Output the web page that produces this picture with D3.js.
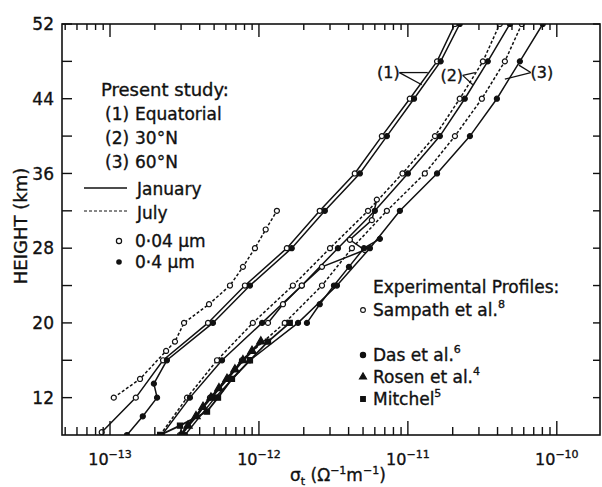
<!DOCTYPE html>
<html>
<head>
<meta charset="utf-8">
<script src="https://cdn.jsdelivr.net/npm/d3@7"></script>
<style>
  body { margin: 0; background: #fff; }
  svg text { font-family: "DejaVu Sans", sans-serif; fill: #111; stroke: #111; stroke-width: 0.35px; }
</style>
</head>
<body>
<svg id="chart"></svg>
<script>
// heights (km) and total conductivity sigma_t (ohm^-1 m^-1)
const equatorOpenH = [8.3, 12, 16, 20, 24, 28, 32, 36, 40, 44, 48, 52];
const equatorOpenS = [8.8e-14, 1.49e-13, 2.27e-13, 4.55e-13, 8.05e-13, 1.54e-12, 2.56e-12, 4.40e-12, 6.69e-12, 1.03e-11, 1.57e-11, 2.07e-11];

const equatorFilledH = [8, 10, 12, 13.5, 16, 20, 24, 28, 32, 36, 40, 44, 48, 52];
const equatorFilledS = [1.30e-13, 1.66e-13, 2.07e-13, 1.97e-13, 2.41e-13, 4.91e-13, 8.70e-13, 1.66e-12, 2.77e-12, 4.76e-12, 7.23e-12, 1.10e-11, 1.66e-11, 2.23e-11];

const equatorJulyH = [12, 14, 17, 18, 20, 22, 24, 26, 28, 30, 32];
const equatorJulyS = [1.06e-13, 1.59e-13, 2.38e-13, 2.73e-13, 3.14e-13, 4.62e-13, 6.39e-13, 7.81e-13, 9.4e-13, 1.11e-12, 1.32e-12];

const modelH = [8, 12, 16, 20, 24, 28, 32, 36, 40, 44, 48, 52];
const lat30JulyS = [2.17e-13, 3.29e-13, 5.23e-13, 9.1e-13, 1.69e-12, 3.0e-12, 5.4e-12, 9.2e-12, 1.52e-11, 2.23e-11, 3.19e-11, 4.14e-11];
const lat30JanS = [2.23e-13, 3.44e-13, 5.65e-13, 1.05e-12, 1.94e-12, 3.39e-12, 6.0e-12, 1.0e-11, 1.64e-11, 2.41e-11, 3.44e-11, 4.84e-11];
const lat60JulyS = [2.95e-13, 4.69e-13, 7.69e-13, 1.49e-12, 2.65e-12, 4.21e-12, 7.23e-12, 1.30e-11, 2.07e-11, 3.14e-11, 4.48e-11, 5.82e-11];
const lat60JanS = [3.19e-13, 5.07e-13, 8.70e-13, 1.83e-12, 3.34e-12, 5.56e-12, 8.84e-12, 1.57e-11, 2.61e-11, 3.96e-11, 5.65e-11, 8.05e-11];

// experimental profiles
const sampathH = [20, 22, 24, 26, 27.8, 28.9, 31, 33.2];
const sampathS = [1.15e-12, 1.45e-12, 1.94e-12, 2.65e-12, 5.14e-12, 4.08e-12, 5.73e-12, 6.19e-12];
const dasH = [20, 22, 24, 26, 28, 29];
const dasS = [2.10e-12, 2.56e-12, 3.19e-12, 4.02e-12, 5.07e-12, 6.49e-12];
const rosenH = [8, 9, 10, 11, 12, 13, 14, 15, 16, 17, 18];
const rosenS = [3.0e-13, 3.34e-13, 3.78e-13, 4.21e-13, 4.76e-13, 5.39e-13, 6.10e-13, 6.90e-13, 7.81e-13, 8.98e-13, 1.03e-12];
const mitchelH = [8, 9, 10.5, 12, 14, 16, 18, 20];
const mitchelS = [2.17e-13, 2.95e-13, 4.48e-13, 5.31e-13, 6.59e-13, 8.70e-13, 1.15e-12, 1.61e-12];

const yTicks = [12, 16, 20, 24, 28, 32, 36, 40, 44, 48, 52];
const yTickLabels = [12, 20, 28, 36, 44, 52];
const xTickLabels = [-13, -12, -11, -10];

// curve labels (1) (2) (3) with leader targets
const curveLabels = ["(1)", "(2)", "(3)"];
const labelS = [7.4e-12, 1.97e-11, 7.93e-11];
const labelH = [46.8, 46.5, 46.8];
const leaderS = [[1.36e-11, 1.24e-11], [2.82e-11, 2.73e-11], [5.56e-11, 4.48e-11]];
const leaderH = [[46.8, 45.5], [46.8, 45.5], [47.6, 46.1]];

const W = 602, H = 487;
const margin = {top: 24, right: 2, bottom: 52, left: 62};
const width = W - margin.left - margin.right;
const height = H - margin.top - margin.bottom;

const svg = d3.select('#chart').attr('width', W).attr('height', H);
const chart = svg.append('g').attr('transform', `translate(${margin.left},${margin.top})`);

const x = d3.scaleLog().domain([4.76e-14, 1.95e-10]).range([0, width]);
const y = d3.scaleLinear().domain([8, 52]).range([height, 0]);

svg.append('defs').append('clipPath').attr('id', 'plotclip')
  .append('rect').attr('width', width).attr('height', height);

const zip = (hs, ss) => hs.map((h, i) => ({h: h, s: ss[i]}));

const series = [
  {pts: zip(equatorOpenH, equatorOpenS), dash: null, mark: 'open'},
  {pts: zip(equatorFilledH, equatorFilledS), dash: null, mark: 'filled'},
  {pts: zip(equatorJulyH, equatorJulyS), dash: '3,2', mark: 'open'},
  {pts: zip(modelH, lat30JulyS), dash: '3,2', mark: 'open'},
  {pts: zip(modelH, lat30JanS), dash: null, mark: 'filled'},
  {pts: zip(modelH, lat60JulyS), dash: '3,2', mark: 'open'},
  {pts: zip(modelH, lat60JanS), dash: null, mark: 'filled'},
  {pts: zip(rosenH, rosenS), dash: null, mark: 'triangle', width: 2.6},
  {pts: zip(mitchelH, mitchelS), dash: null, mark: 'square', width: 1.8},
  {pts: zip(sampathH, sampathS), dash: null, mark: 'open'},
  {pts: zip(dasH, dasS), dash: null, mark: 'filled'}
];

const line = d3.line().x(d => x(d.s)).y(d => y(d.h));

const plot = chart.append('g').attr('clip-path', 'url(#plotclip)');

series.forEach(sr => {
  plot.append('path')
    .datum(sr.pts)
    .attr('d', line)
    .attr('fill', 'none')
    .attr('stroke', '#111')
    .attr('stroke-width', sr.width || 1.5)
    .attr('stroke-dasharray', sr.dash);

  const symType = sr.mark === 'triangle' ? d3.symbolTriangle : sr.mark === 'square' ? d3.symbolSquare : d3.symbolCircle;
  const size = sr.mark === 'triangle' ? 30 : sr.mark === 'square' ? 26 : 20;
  plot.selectAll(null)
    .data(sr.pts)
    .join('path')
      .attr('transform', d => `translate(${x(d.s)},${y(d.h)})`)
      .attr('d', d3.symbol().type(symType).size(size))
      .attr('fill', sr.mark === 'open' ? '#fff' : '#111')
      .attr('stroke', '#111')
      .attr('stroke-width', 1.2);
});

// frame
chart.append('rect')
  .attr('width', width).attr('height', height)
  .attr('fill', 'none').attr('stroke', '#111').attr('stroke-width', 1.6);

// x ticks (bottom pointing up, top pointing down)
const xt = x.ticks().filter(t => t >= x.domain()[0] && t <= x.domain()[1]);
const isMajor = t => Math.abs(Math.log10(t) - Math.round(Math.log10(t))) < 1e-6;
chart.selectAll('.xtb')
  .data(xt)
  .join('line')
    .attr('x1', d => x(d)).attr('x2', d => x(d))
    .attr('y1', height).attr('y2', d => height - (isMajor(d) ? 14 : 8))
    .attr('stroke', '#111').attr('stroke-width', 1.4);
chart.selectAll('.xtt')
  .data(xt)
  .join('line')
    .attr('x1', d => x(d)).attr('x2', d => x(d))
    .attr('y1', 0).attr('y2', d => isMajor(d) ? 13 : 6)
    .attr('stroke', '#111').attr('stroke-width', 1.4);

const xl = chart.selectAll('.xlab')
  .data(xTickLabels)
  .join('text')
    .attr('x', d => x(Math.pow(10, d)))
    .attr('y', height + 30)
    .attr('text-anchor', 'middle')
    .style('font-size', '16px');
xl.append('tspan').text('10');
xl.append('tspan').attr('dy', -7).style('font-size', '11px').text(d => '\u2212' + Math.abs(d));

// y ticks
chart.selectAll('.ytl')
  .data(yTicks)
  .join('line')
    .attr('x1', 0).attr('x2', 10)
    .attr('y1', d => y(d)).attr('y2', d => y(d))
    .attr('stroke', '#111').attr('stroke-width', 1.4);
chart.selectAll('.ytr')
  .data(yTicks)
  .join('line')
    .attr('x1', width).attr('x2', width - 7)
    .attr('y1', d => y(d)).attr('y2', d => y(d))
    .attr('stroke', '#111').attr('stroke-width', 1.4);
chart.selectAll('.ylab')
  .data(yTickLabels)
  .join('text')
    .attr('x', -8)
    .attr('y', d => y(d))
    .attr('dy', '0.36em')
    .attr('text-anchor', 'end')
    .style('font-size', '17px')
    .text(d => d);

// axis titles
svg.append('text')
  .attr('transform', 'translate(27,226) rotate(-90)')
  .attr('text-anchor', 'middle')
  .style('font-size', '18px')
  .text('HEIGHT (km)');
const xt2 = svg.append('text')
  .attr('x', 290).attr('y', 481)
  .style('font-size', '17px');
xt2.append('tspan').text('\u03c3');
xt2.append('tspan').attr('dy', 4).style('font-size', '11px').text('t');
xt2.append('tspan').attr('dy', -4).text(' (\u03a9');
xt2.append('tspan').attr('dy', -7).style('font-size', '11px').text('\u22121');
xt2.append('tspan').attr('dy', 7).text('m');
xt2.append('tspan').attr('dy', -7).style('font-size', '11px').text('\u22121');
xt2.append('tspan').attr('dy', 7).text(')');

// curve labels with leaders
curveLabels.forEach((lab, i) => {
  const lx = x(labelS[i]), ly = y(labelH[i]);
  const right = i === 2;
  chart.append('text')
    .attr('x', lx).attr('y', ly).attr('dy', '0.36em')
    .attr('text-anchor', 'middle')
    .style('font-size', '16px')
    .text(lab);
  const sx = right ? lx - 11 : lx + 11;
  leaderS[i].forEach((s, j) => {
    chart.append('line')
      .attr('x1', sx).attr('y1', ly)
      .attr('x2', x(s)).attr('y2', y(leaderH[i][j]))
      .attr('stroke', '#111').attr('stroke-width', 1.3);
  });
});

// legend: present study
const leg = svg.append('g');
leg.append('text').attr('x', 101).attr('y', 96).style('font-size', '18px').text('Present study:');
[['(1)', 'Equatorial'], ['(2)', '30\u00b0N'], ['(3)', '60\u00b0N']].forEach((r, i) => {
  leg.append('text').attr('x', 105).attr('y', 120 + i * 24).style('font-size', '17px').text(r[0]);
  leg.append('text').attr('x', 135).attr('y', 120 + i * 24).style('font-size', '17px').text(r[1]);
});
leg.append('line').attr('x1', 84).attr('x2', 127).attr('y1', 188).attr('y2', 188)
  .attr('stroke', '#111').attr('stroke-width', 1.6);
leg.append('text').attr('x', 137).attr('y', 195).style('font-size', '17px').text('January');
leg.append('line').attr('x1', 84).attr('x2', 127).attr('y1', 211).attr('y2', 211)
  .attr('stroke', '#111').attr('stroke-width', 1.2).attr('stroke-dasharray', '3,2');
leg.append('text').attr('x', 137).attr('y', 219).style('font-size', '17px').text('July');
leg.append('circle').attr('cx', 119).attr('cy', 241).attr('r', 2.6)
  .attr('fill', '#fff').attr('stroke', '#111').attr('stroke-width', 1.2);
leg.append('text').attr('x', 135).attr('y', 247).style('font-size', '17px').text('0\u00b704 \u00b5m');
leg.append('circle').attr('cx', 119).attr('cy', 262).attr('r', 2.8).attr('fill', '#111');
leg.append('text').attr('x', 135).attr('y', 268).style('font-size', '17px').text('0\u00b74 \u00b5m');

// legend: experimental profiles
const exp = svg.append('g');
exp.append('text').attr('x', 373).attr('y', 293).style('font-size', '17px').text('Experimental Profiles:');
const expRows = [
  {name: 'Sampath et al.', ref: '8', y: 316, mark: 'open'},
  {name: 'Das et al.', ref: '6', y: 361, mark: 'filled'},
  {name: 'Rosen et al.', ref: '4', y: 383, mark: 'triangle'},
  {name: 'Mitchel', ref: '5', y: 405, mark: 'square'}
];
expRows.forEach(r => {
  const t = exp.append('text').attr('x', 373).attr('y', r.y).style('font-size', '17px');
  t.append('tspan').text(r.name);
  t.append('tspan').attr('dy', -8).style('font-size', '11px').text(r.ref);
  const symType = r.mark === 'triangle' ? d3.symbolTriangle : r.mark === 'square' ? d3.symbolSquare : d3.symbolCircle;
  exp.append('path')
    .attr('transform', `translate(363,${r.y - 6})`)
    .attr('d', d3.symbol().type(symType).size(r.mark === 'open' ? 18 : 22))
    .attr('fill', r.mark === 'open' ? '#fff' : '#111')
    .attr('stroke', '#111').attr('stroke-width', 1.1);
});
</script>
</body>
</html>
